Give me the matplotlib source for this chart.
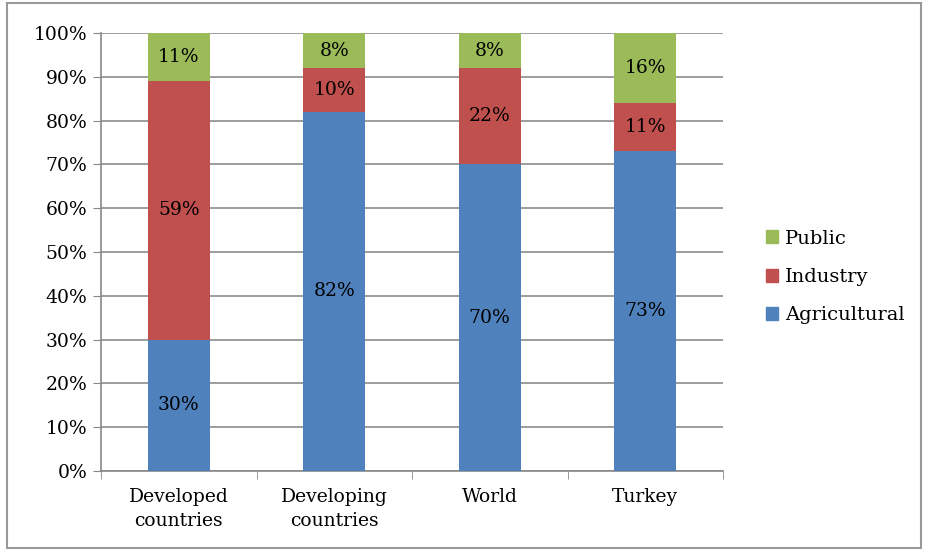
import matplotlib.pyplot as plt
from matplotlib.patches import Rectangle

categories = ["Developed\ncountries", "Developing\ncountries", "World", "Turkey"]
agricultural = [30, 82, 70, 73]
industry = [59, 10, 22, 11]
public = [11, 8, 8, 16]

colors = {"Agricultural": "#4F81BD", "Industry": "#C0504D", "Public": "#9BBB59"}

plt.rcParams["font.family"] = ["DejaVu Serif"]

fig = plt.figure(figsize=(9.26, 5.5), dpi=100)
ax = fig.add_axes([101 / 926, 1 - 471 / 550, 622 / 926, 438 / 550])

x = range(len(categories))
w = 0.4
bottom2 = [a + b for a, b in zip(agricultural, industry)]
ax.bar(x, agricultural, w, color=colors["Agricultural"], zorder=3)
ax.bar(x, industry, w, bottom=agricultural, color=colors["Industry"], zorder=3)
ax.bar(x, public, w, bottom=bottom2, color=colors["Public"], zorder=3)

for i in x:
    segs = [(0, agricultural[i]), (agricultural[i], industry[i]), (bottom2[i], public[i])]
    for b, h in segs:
        ax.text(i, b + h / 2, f"{h}%", ha="center", va="center", fontsize=13.5, zorder=4)

ax.set_xlim(-0.5, 3.5)
ax.set_ylim(0, 100)
ax.set_yticks(range(0, 101, 10))
ax.set_yticklabels([f"{v}%" for v in range(0, 101, 10)], fontsize=13.5)
ax.set_xticks(list(x))
ax.set_xticklabels(categories, fontsize=13.5, linespacing=1.45)
ax.set_xticks([-0.5, 0.5, 1.5, 2.5, 3.5], minor=True)
ax.tick_params(axis="x", which="major", length=0, pad=12)
ax.tick_params(axis="x", which="minor", length=6, color="#888888")
ax.tick_params(axis="y", length=6, color="#888888", pad=4)
ax.grid(axis="y", color="#8c8c8c", linewidth=1.2, zorder=0)
for s in ["top", "right"]:
    ax.spines[s].set_visible(False)
for s in ["left", "bottom"]:
    ax.spines[s].set_color("#888888")
    ax.spines[s].set_linewidth(1.2)

handles = [Rectangle((0, 0), 1, 1, color=colors[k]) for k in ["Public", "Industry", "Agricultural"]]
fig.legend(handles, ["Public", "Industry", "Agricultural"], loc="center left",
           bbox_to_anchor=(748 / 926, 1 - 277 / 550), frameon=False, fontsize=14,
           handlelength=0.65, handleheight=0.65, handletextpad=0.35, labelspacing=1.05)

fig.patches.append(Rectangle((7 / 926, 2 / 550), 914 / 926, 545 / 550, transform=fig.transFigure,
                             fill=False, edgecolor="#999999", linewidth=1.5))

fig.savefig("out.png", dpi=100)
